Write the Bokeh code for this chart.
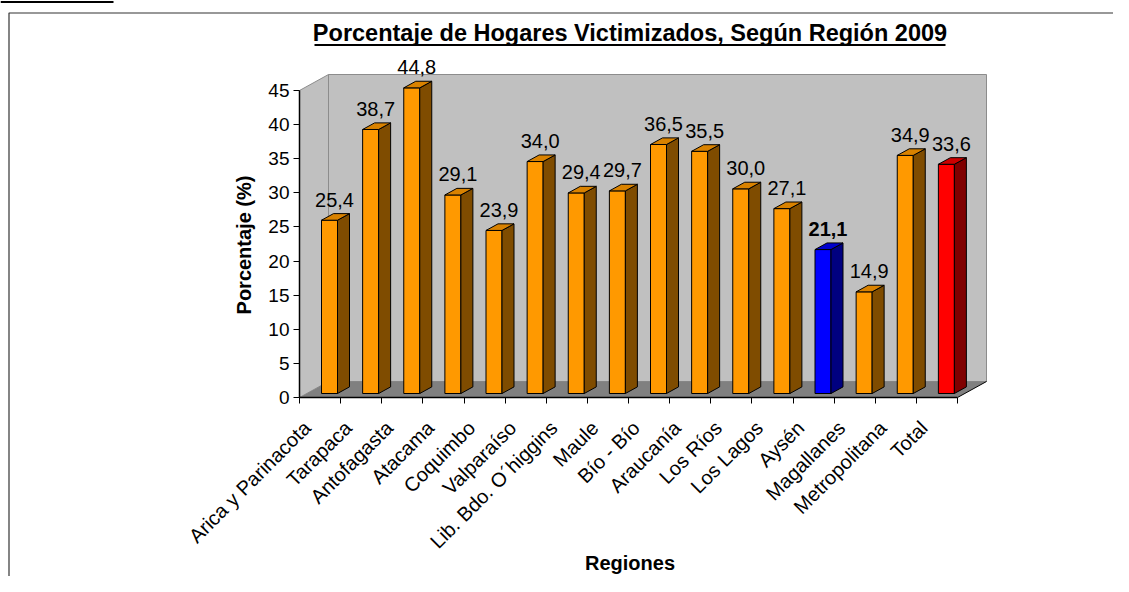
import math
from bokeh.plotting import figure
from bokeh.models import Range1d, FixedTicker, ColumnDataSource
from bokeh.core.properties import value
from bokeh.embed import file_html
from bokeh.resources import INLINE

# ---------------- data ----------------
categories = ["Arica y Parinacota", "Tarapaca", "Antofagasta", "Atacama", "Coquimbo",
              "Valparaíso", "Lib. Bdo. O´higgins", "Maule", "Bío - Bío", "Araucanía",
              "Los Ríos", "Los Lagos", "Aysén", "Magallanes", "Metropolitana", "Total"]
values = [25.4, 38.7, 44.8, 29.1, 23.9, 34.0, 29.4, 29.7, 36.5, 35.5, 30.0, 27.1,
          21.1, 14.9, 34.9, 33.6]
y_ticks = [0, 5, 10, 15, 20, 25, 30, 35, 40, 45]
title_text = "Porcentaje de Hogares Victimizados, Según Región 2009"
y_title = "Porcentaje (%)"
x_title = "Regiones"

# ---------------- styles / geometry ----------------
FONT = "Liberation Sans"
W, H = 1113, 576
OX, OY = 299, 397                          # canvas position of the axes origin
XPX = 41.125                               # px per category
YPX = 307.0 / 45.0                         # px per percent
DX, DY = 29 / XPX, 16 / YPX                # depth of the 3-D box
BX0, BW = 22 / XPX, 16 / XPX               # bar front face offset / width
BDX, BDY = 12 / XPX, 6.6 / YPX             # bar depth
BY0 = 4 / YPX                              # bar base lift
LBL_SHIFT = 13 / XPX                       # category label shift (3-D look)


def px(sx):   # canvas x -> data x (decorations only)
    return (sx - OX) / XPX


def py(sy):   # canvas y -> data y (decorations only)
    return (OY - sy) / YPX


face = {"normal": ("#FF9900", "#7F4C00", "#D98200"),
        "Aysén": ("#0000FF", "#000080", "#0000CC"),
        "Total": ("#FF0000", "#800000", "#CC0000")}

n = len(categories)
ymax = y_ticks[-1]

p = figure(width=W, height=H, output_backend="svg", toolbar_location=None,
           x_range=Range1d(px(0), px(W)), y_range=Range1d(py(H), py(0)),
           min_border=0)
p.xgrid.visible = False
p.ygrid.visible = False
p.outline_line_color = None
p.background_fill_color = "white"
p.border_fill_color = "white"

# chart-object border and the clipped caption underline at the very top
p.line(x=[px(8.5), px(8.5), px(W + 20)], y=[py(H + 20), py(12.5), py(12.5)],
       line_color="#333333", line_width=1.2)
p.segment(x0=[px(0)], x1=[px(113)], y0=[py(1.5)], y1=[py(1.5)], line_color="black", line_width=2)

# walls and floor
p.patches(xs=[[0, DX, DX, 0], [DX, n + DX, n + DX, DX]],
          ys=[[0, DY, ymax + DY, ymax], [DY, DY, ymax + DY, ymax + DY]],
          fill_color="#C0C0C0", line_color="#8C8C8C", line_width=1)
p.patch(x=[0, n, n + DX, DX], y=[0, 0, DY, DY], fill_color="#808080", line_color=None)
p.line(x=[n, n + DX], y=[0, DY], line_color="black", line_width=1)

# bars
cols = [face.get(c, face["normal"]) for c in categories]
x0 = [i + BX0 for i in range(n)]
src = ColumnDataSource(dict(
    fxs=[[x, x + BW, x + BW, x] for x in x0],
    fys=[[BY0, BY0, BY0 + v, BY0 + v] for v in values],
    sxs=[[x + BW, x + BW + BDX, x + BW + BDX, x + BW] for x in x0],
    sys=[[BY0, BY0 + BDY, BY0 + v + BDY, BY0 + v] for v in values],
    txs=[[x, x + BW, x + BW + BDX, x + BDX] for x in x0],
    tys=[[BY0 + v, BY0 + v, BY0 + v + BDY, BY0 + v + BDY] for v in values],
    fc=[c[0] for c in cols], sc=[c[1] for c in cols], tc=[c[2] for c in cols],
))
p.patches(xs="fxs", ys="fys", fill_color="fc", line_color="black", line_width=1, source=src)
p.patches(xs="sxs", ys="sys", fill_color="sc", line_color="black", line_width=1, source=src)
p.patches(xs="txs", ys="tys", fill_color="tc", line_color="black", line_width=1, source=src)

# value labels
lab = ColumnDataSource(dict(
    x=[i + BX0 + BW / 2 for i in range(n)],
    y=[BY0 + v + BDY for v in values],
    t=[f"{v:.1f}".replace(".", ",") for v in values],
    st=["bold" if c == "Aysén" else "normal" for c in categories],
))
p.text(x="x", y="y", text="t", source=lab, text_align="center", text_baseline="alphabetic",
       x_offset=5, y_offset=-14, text_font=value(FONT), text_font_size="20px",
       text_font_style="st", text_color="black")

# title with underline
p.text(x=[px(629.5)], y=[py(32)], text=[title_text],
       text_align="center", text_baseline="alphabetic", text_font=value(FONT),
       text_font_size="23.5px", text_font_style="bold", text_color="black")
p.segment(x0=[px(314)], x1=[px(945)], y0=[py(44.5)], y1=[py(44.5)],
          line_color="black", line_width=2)

# axis titles
p.text(x=[px(243)], y=[py(244.5)], text=[y_title], angle=math.pi / 2,
       text_align="center", text_baseline="middle", text_font=value(FONT),
       text_font_size="20px", text_font_style="bold", text_color="black")
p.text(x=[px(629.5)], y=[py(562)], text=[x_title],
       text_align="center", text_baseline="middle", text_font=value(FONT),
       text_font_size="20px", text_font_style="bold", text_color="black")

# y axis (fixed at x = 0)
ya = p.yaxis[0]
ya.fixed_location = 0
ya.ticker = FixedTicker(ticks=y_ticks)
ya.bounds = (0, ymax)
ya.axis_line_color = "black"
ya.axis_line_width = 1.5
ya.major_tick_out = 6
ya.major_tick_in = 0
ya.major_tick_line_width = 1
ya.minor_tick_line_color = None
ya.major_label_standoff = 4
ya.major_label_text_font = FONT
ya.major_label_text_font_size = "19px"
ya.major_label_text_color = "black"

# x axis (fixed at y = 0)
centers = [i + 0.5 - LBL_SHIFT for i in range(n)]
xa = p.xaxis[0]
xa.fixed_location = 0
xa.ticker = FixedTicker(ticks=centers, minor_ticks=list(range(n + 1)))
xa.major_label_overrides = {c: lbl for c, lbl in zip(centers, categories)}
xa.bounds = (0, n)
xa.axis_line_color = "black"
xa.axis_line_width = 1.5
xa.major_tick_line_color = None
xa.major_tick_out = 0
xa.major_tick_in = 0
xa.minor_tick_line_color = "black"
xa.minor_tick_out = 6
xa.minor_tick_in = 0
xa.major_label_orientation = math.pi / 4
xa.major_label_standoff = 21
xa.major_label_text_font = FONT
xa.major_label_text_font_size = "20px"
xa.major_label_text_color = "black"

open("out.html", "w").write(file_html(p, INLINE))
